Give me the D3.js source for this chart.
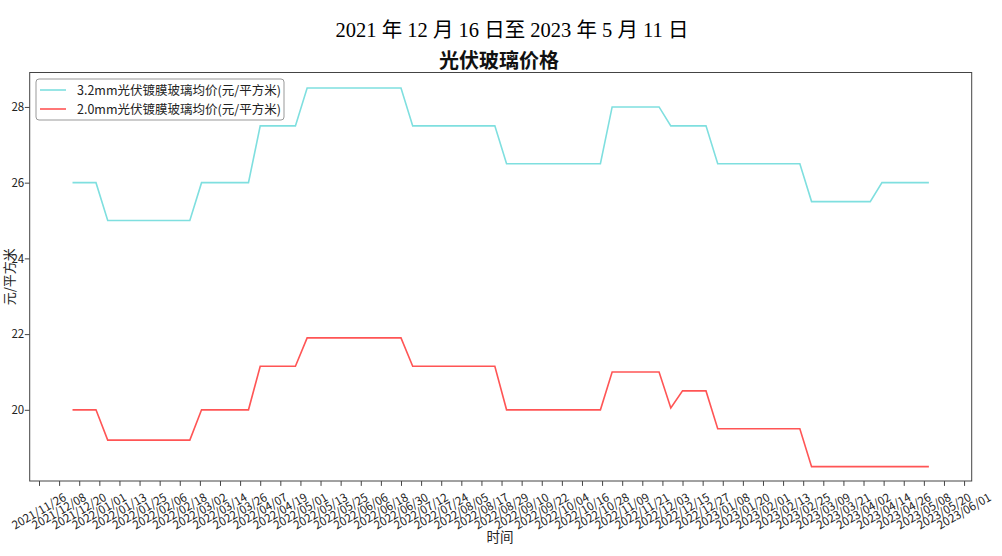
<!DOCTYPE html>
<html lang="zh">
<head>
    <meta charset="UTF-8">
    <title>光伏玻璃价格</title>
    <script src="https://d3js.org/d3.v7.min.js"></script>
    <style>
        body {
            margin: 0;
            padding: 0;
            background-color: #fff;
        }
        svg text {
            font-family: "Noto Sans CJK SC", "DejaVu Sans", sans-serif;
            fill: #222;
        }
    </style>
</head>
<body>
    <svg id="chart" width="1002" height="556"></svg>

    <script>
        // weekly observation dates
        const dates = [
            "2021-12-16", "2021-12-23", "2021-12-30",
            "2022-01-06", "2022-01-13", "2022-01-20", "2022-01-27",
            "2022-02-03", "2022-02-10", "2022-02-17", "2022-02-24",
            "2022-03-03", "2022-03-10", "2022-03-17", "2022-03-24", "2022-03-31",
            "2022-04-07", "2022-04-14", "2022-04-21", "2022-04-28",
            "2022-05-05", "2022-05-12", "2022-05-19", "2022-05-26",
            "2022-06-02", "2022-06-09", "2022-06-16", "2022-06-23", "2022-06-30",
            "2022-07-07", "2022-07-14", "2022-07-21", "2022-07-28",
            "2022-08-04", "2022-08-11", "2022-08-18", "2022-08-25",
            "2022-09-01", "2022-09-08", "2022-09-15", "2022-09-22", "2022-09-29",
            "2022-10-06", "2022-10-13", "2022-10-20", "2022-10-27",
            "2022-11-03", "2022-11-10", "2022-11-17", "2022-11-24",
            "2022-12-01", "2022-12-08", "2022-12-15", "2022-12-22", "2022-12-29",
            "2023-01-05", "2023-01-12", "2023-01-19", "2023-01-26",
            "2023-02-02", "2023-02-09", "2023-02-16", "2023-02-23",
            "2023-03-02", "2023-03-09", "2023-03-16", "2023-03-23", "2023-03-30",
            "2023-04-06", "2023-04-13", "2023-04-20", "2023-04-27",
            "2023-05-04", "2023-05-11"
        ];

        // 3.2mm glass, yuan / m2
        const price32 = [
            26, 26, 26,
            25, 25, 25, 25, 25, 25, 25, 25,
            26, 26, 26, 26, 26,
            27.5, 27.5, 27.5, 27.5,
            28.5, 28.5, 28.5, 28.5, 28.5, 28.5, 28.5, 28.5, 28.5,
            27.5, 27.5, 27.5, 27.5, 27.5, 27.5, 27.5, 27.5,
            26.5, 26.5, 26.5, 26.5, 26.5, 26.5, 26.5, 26.5, 26.5,
            28, 28, 28, 28, 28,
            27.5, 27.5, 27.5, 27.5,
            26.5, 26.5, 26.5, 26.5, 26.5, 26.5, 26.5, 26.5,
            25.5, 25.5, 25.5, 25.5, 25.5, 25.5,
            26, 26, 26, 26, 26
        ];

        // 2.0mm glass, yuan / m2
        const price20 = [
            20, 20, 20,
            19.2, 19.2, 19.2, 19.2, 19.2, 19.2, 19.2, 19.2,
            20, 20, 20, 20, 20,
            21.15, 21.15, 21.15, 21.15,
            21.9, 21.9, 21.9, 21.9, 21.9, 21.9, 21.9, 21.9, 21.9,
            21.15, 21.15, 21.15, 21.15, 21.15, 21.15, 21.15, 21.15,
            20, 20, 20, 20, 20, 20, 20, 20, 20,
            21, 21, 21, 21, 21,
            20.05,
            20.5, 20.5, 20.5,
            19.5, 19.5, 19.5, 19.5, 19.5, 19.5, 19.5, 19.5,
            18.5, 18.5, 18.5, 18.5, 18.5, 18.5, 18.5, 18.5, 18.5, 18.5, 18.5
        ];

        const seriesNames = [
            "3.2mm光伏镀膜玻璃均价(元/平方米)",
            "2.0mm光伏镀膜玻璃均价(元/平方米)"
        ];
        const seriesColors = ["#7fdfdf", "#ff5555"];

        const xTickLabels = [
            "2021/11/26", "2021/12/08", "2021/12/20",
            "2022/01/01", "2022/01/13", "2022/01/25", "2022/02/06", "2022/02/18",
            "2022/03/02", "2022/03/14", "2022/03/26", "2022/04/07", "2022/04/19",
            "2022/05/01", "2022/05/13", "2022/05/25", "2022/06/06", "2022/06/18",
            "2022/06/30", "2022/07/12", "2022/07/24", "2022/08/05", "2022/08/17",
            "2022/08/29", "2022/09/10", "2022/09/22", "2022/10/04", "2022/10/16",
            "2022/10/28", "2022/11/09", "2022/11/21", "2022/12/03", "2022/12/15",
            "2022/12/27", "2023/01/08", "2023/01/20", "2023/02/01", "2023/02/13",
            "2023/02/25", "2023/03/09", "2023/03/21", "2023/04/02", "2023/04/14",
            "2023/04/26", "2023/05/08", "2023/05/20", "2023/06/01"
        ];
        const yTicks = [20, 22, 24, 26, 28];

        const svg = d3.select("#chart");
        const mLeft = 29.7, mRight = 971.7, mTop = 72.5, mBottom = 481;

        const parse = d3.timeParse("%Y-%m-%d");
        const parseTick = d3.timeParse("%Y/%m/%d");
        const xs = dates.map(parse);

        // matplotlib-like 5% margins on the date range
        const [d0, d1] = d3.extent(xs);
        const pad = (d1 - d0) * 0.05;
        const x = d3.scaleTime()
            .domain([new Date(+d0 - pad), new Date(+d1 + pad)])
            .range([mLeft, mRight]);
        const y = d3.scaleLinear().domain([18.12, 28.91]).range([mBottom, mTop]);

        // titles
        svg.append("text")
            .attr("x", 512).attr("y", 37)
            .attr("text-anchor", "middle")
            .style("font-family", "'Liberation Serif', 'Noto Sans CJK SC', serif")
            .style("font-size", "20.5px")
            .style("fill", "#000")
            .text("2021 年 12 月 16 日至 2023 年 5 月 11 日");

        svg.append("text")
            .attr("x", 499).attr("y", 68)
            .attr("text-anchor", "middle")
            .style("font-size", "20px")
            .style("font-weight", "bold")
            .style("fill", "#111")
            .text("光伏玻璃价格");

        // lines
        const series = [price32, price20];
        series.forEach((vals, i) => {
            const line = d3.line()
                .x((d, j) => x(xs[j]))
                .y(d => y(d));
            svg.append("path")
                .datum(vals)
                .attr("d", line)
                .attr("fill", "none")
                .attr("stroke", seriesColors[i])
                .attr("stroke-width", 1.6);
        });

        // axes
        const tickDates = xTickLabels.map(parseTick);
        const xAxis = d3.axisBottom(x)
            .tickValues(tickDates)
            .tickSize(4.9)
            .tickFormat("");
        svg.append("g")
            .attr("transform", `translate(0,${mBottom})`)
            .call(xAxis)
            .call(g => g.select(".domain").remove())
            .selectAll("line").attr("stroke", "#444");

        const yAxis = d3.axisLeft(y)
            .tickValues(yTicks)
            .tickSize(4.9)
            .tickFormat(d3.format("d"));
        const gy = svg.append("g")
            .attr("transform", `translate(${mLeft},0)`)
            .call(yAxis);
        gy.select(".domain").remove();
        gy.selectAll("line").attr("stroke", "#444");
        gy.selectAll("text")
            .attr("x", -5.5)
            .style("font-size", "11.5px")
            .style("font-family", "'Noto Sans CJK SC', sans-serif");

        // rotated x tick labels, bbox centred on the tick
        const fs = 11.5;
        const labels = svg.append("g");
        xTickLabels.forEach((lab, i) => {
            const t = labels.append("text")
                .attr("text-anchor", "middle")
                .attr("dy", "0.35em")
                .style("font-size", fs + "px")
                .text(lab);
            const w = t.node().getComputedTextLength();
            const h = fs * 1.15;
            const bh = w * 0.5 + h * 0.866;
            const cx = x(tickDates[i]);
            const cy = mBottom + 9.5 + bh / 2;
            t.attr("transform", `translate(${cx},${cy}) rotate(-30)`);
        });

        // frame
        svg.append("rect")
            .attr("x", mLeft).attr("y", mTop)
            .attr("width", mRight - mLeft).attr("height", mBottom - mTop)
            .attr("fill", "none")
            .attr("stroke", "#444")
            .attr("stroke-width", 1);

        // axis titles
        svg.append("text")
            .attr("x", 500).attr("y", 542)
            .attr("text-anchor", "middle")
            .style("font-size", "13.5px")
            .text("时间");

        svg.append("text")
            .attr("transform", `translate(13,${(mTop + mBottom) / 2}) rotate(-90)`)
            .attr("text-anchor", "middle")
            .attr("dy", "0.1em")
            .style("font-size", "13px")
            .text("元/平方米");

        // legend
        const lg = svg.append("g").attr("transform", "translate(36,79)");
        lg.append("rect")
            .attr("width", 248).attr("height", 41)
            .attr("rx", 3)
            .attr("fill", "#fff").attr("fill-opacity", 0.8)
            .attr("stroke", "#999");
        seriesNames.forEach((name, i) => {
            const yy = 11 + i * 19;
            lg.append("line")
                .attr("x1", 4).attr("x2", 30)
                .attr("y1", yy).attr("y2", yy)
                .attr("stroke", seriesColors[i])
                .attr("stroke-width", 1.6);
            lg.append("text")
                .attr("x", 41).attr("y", yy)
                .attr("dy", "0.36em")
                .style("font-size", "12.5px")
                .text(name);
        });
    </script>
</body>
</html>
